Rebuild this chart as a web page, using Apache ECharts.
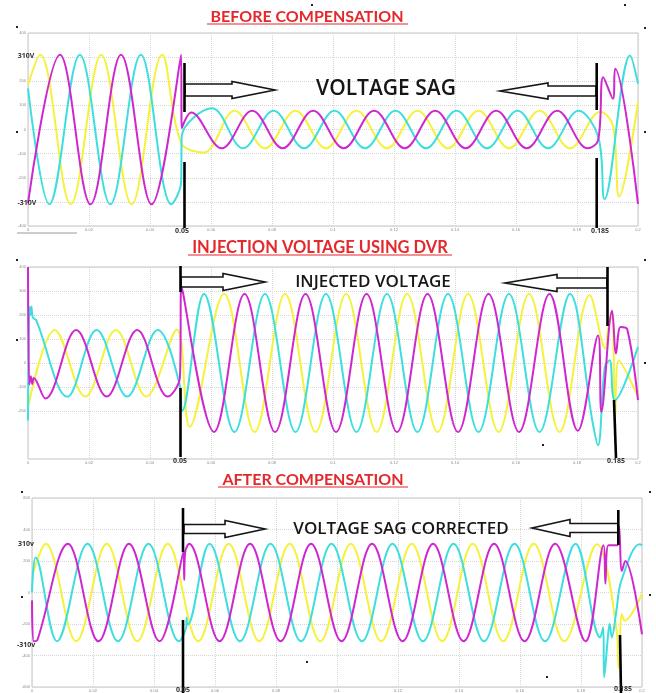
<!DOCTYPE html>
<html>
<head>
<meta charset="utf-8">
<script src="https://cdn.jsdelivr.net/npm/echarts@6/dist/echarts.min.js"></script>
<style>
  html, body { margin: 0; padding: 0; background: #fff; }
  #chart { width: 656px; height: 693px; }
</style>
</head>
<body>
<div id="chart"></div>
<script>
// [time (s), voltage (V)]: peaks, troughs and transient corners
const beforeYellow = [
  [0, 185], [0.004, 310], [0.014, -310], [0.024, 310], [0.034, -310], [0.044, 310],
  [0.0502, -55], [0.0577, -95], [0.0677, 78], [0.0777, -78], [0.0877, 78], [0.0977, -78],
  [0.1077, 78], [0.1177, -78], [0.1277, 78], [0.1377, -78], [0.1477, 78], [0.1577, -78],
  [0.1677, 78], [0.1777, -78], [0.1877, 74], [0.1918, 15], [0.1938, -278], [0.2, 113]
];
const beforeMagenta = [
  [0, -305], [0.0105, 310], [0.0205, -310], [0.0305, 310], [0.0405, -310], [0.0502, 310], [0.0504, 5],
  [0.0535, 70], [0.0635, -78], [0.0735, 78], [0.0835, -78], [0.0935, 78], [0.1035, -78], [0.1135, 78],
  [0.1235, -78], [0.1335, 78], [0.1435, -78], [0.1535, 78], [0.1635, -78], [0.1735, 78], [0.1835, -78],
  [0.1869, -45], [0.1886, 217], [0.1918, 127], [0.1925, 252], [0.2, -308]
];
const beforeCyan = [
  [0, 170], [0.007, -310], [0.017, 310], [0.027, -310], [0.037, 310], [0.047, -310], [0.0502, -220], [0.0504, -30],
  [0.0604, 88], [0.0705, -78], [0.0805, 78], [0.0905, -78], [0.1005, 78], [0.1105, -78], [0.1205, 78],
  [0.1305, -78], [0.1405, 78], [0.1505, -78], [0.1605, 78], [0.1705, -78], [0.1805, 78],
  [0.187, -32], [0.189, -288], [0.1974, 307], [0.2, 190]
];

const injectYellow = [
  [0, -185], [0.0088, 138], [0.0188, -140], [0.0288, 138], [0.0388, -140], [0.0488, 140],
  [0.053, -265], [0.0643, 287], [0.0743, -287], [0.0843, 287], [0.0943, -287], [0.1043, 287],
  [0.1143, -287], [0.1243, 287], [0.1343, -287], [0.1443, 287], [0.1543, -287], [0.1643, 287],
  [0.1743, -287], [0.1842, 282], [0.1893, 60], [0.1902, 143], [0.1915, 210], [0.1925, -225],
  [0.1937, 10], [0.2, -140]
];
const injectMagenta = [
  [0, 400], [0.0004, -90], [0.0009, -55], [0.0014, -88], [0.0019, -62], [0.0057, -148],
  [0.0158, 138], [0.0258, -140], [0.0358, 138], [0.0458, -140], [0.0498, -60], [0.0503, 318],
  [0.061, -287], [0.071, 287], [0.081, -287], [0.091, 287], [0.101, -287], [0.111, 287],
  [0.121, -287], [0.131, 287], [0.141, -287], [0.151, 287], [0.161, -287], [0.171, 287],
  [0.1803, -282], [0.1869, 115], [0.188, -204], [0.1915, 218], [0.1928, 40], [0.1943, 150],
  [0.1965, 140], [0.2, -155]
];
const injectCyan = [
  [0, -240], [0.0005, 233], [0.0008, 200], [0.0011, 235], [0.0016, 190], [0.0027, 178],
  [0.0129, -141], [0.0225, 138], [0.0325, -140], [0.0425, 138], [0.0498, -95], [0.0505, -200],
  [0.0577, 287], [0.0677, -287], [0.0777, 287], [0.0877, -287], [0.0977, 287], [0.1077, -287],
  [0.1177, 287], [0.1277, -287], [0.1377, 287], [0.1477, -287], [0.1577, 287], [0.1677, -287],
  [0.1777, 287], [0.1852, -253], [0.1869, -343], [0.1891, -17], [0.1907, 11], [0.1924, -155], [0.2, 67]
];

const afterYellow = [
  [0, 100], [0.0045, 310], [0.0145, -310], [0.0245, 310], [0.0345, -310], [0.0445, 310],
  [0.0545, -310], [0.0645, 310], [0.0745, -310], [0.0845, 310], [0.0945, -310], [0.1045, 310],
  [0.1145, -310], [0.1245, 310], [0.1345, -310], [0.1445, 310], [0.1545, -310], [0.1645, 310],
  [0.1745, -310], [0.1852, 306], [0.1918, -264], [0.1923, -480], [0.1934, -137], [0.1943, -180], [0.2, -8]
];
const afterMagenta = [
  [0, -50], [0.0006, -310], [0.0018, -300], [0.0118, 310], [0.0218, -310], [0.0318, 310],
  [0.0418, -310], [0.0497, 262], [0.0499, 80], [0.0502, 255], [0.0515, 310], [0.0615, -310],
  [0.0715, 310], [0.0815, -310], [0.0915, 310], [0.1015, -310], [0.1115, 310], [0.1215, -310],
  [0.1315, 310], [0.1415, -310], [0.1515, 310], [0.1615, -310], [0.1715, 310], [0.1815, -310],
  [0.1874, 300], [0.188, 55], [0.189, 300], [0.1921, 300], [0.1925, 420], [0.1934, 137],
  [0.1945, 200], [0.2, -265]
];
const afterCyan = [
  [0, 0], [0.0012, 222], [0.0082, -310], [0.0182, 310], [0.0282, -310], [0.0382, 310],
  [0.0482, -310], [0.0505, -225], [0.0507, -160], [0.051, -205], [0.0582, 310], [0.0682, -310],
  [0.0782, 310], [0.0882, -310], [0.0982, 310], [0.1082, -310], [0.1182, 310], [0.1282, -310],
  [0.1382, 310], [0.1482, -310], [0.1582, 310], [0.1682, -310], [0.1782, 310],
  [0.1863, -285], [0.1873, -221], [0.1876, -538], [0.1889, -264], [0.1894, -200], [0.1901, -285],
  [0.1916, -116], [0.1932, 73], [0.1992, 306], [0.2, 300]
];

const titles = ['BEFORE COMPENSATION', 'INJECTION VOLTAGE USING DVR', 'AFTER COMPENSATION'];
const notes = ['VOLTAGE SAG', 'INJECTED VOLTAGE', 'VOLTAGE SAG CORRECTED'];

const YELLOW = '#f4f23c';
const MAGENTA = '#cf27cf';
const CYAN = '#3fdede';

const panels = [
  {left: 28, right: 18, top: 33, height: 193, min: -400, max: 400, step: 100, hide: [300, -300],
    traces: [beforeYellow, beforeCyan, beforeMagenta]},
  {left: 28, right: 18, top: 267, height: 192, min: -400, max: 400, step: 100, hide: [-300, -400],
    traces: [injectYellow, injectCyan, injectMagenta]},
  {left: 32, right: 14, top: 498, height: 190, min: -600, max: 600, step: 200, hide: [],
    traces: [afterYellow, afterCyan, afterMagenta]}
];

const grid = [], xAxis = [], yAxis = [], series = [];
panels.forEach((p, i) => {
  grid.push({left: p.left, right: p.right, top: p.top, height: p.height,
    show: true, borderColor: '#c4c4c4', borderWidth: 1, backgroundColor: '#fff'});
  xAxis.push({
    type: 'value', gridIndex: i, min: 0, max: 0.2, interval: 0.02,
    axisLine: {show: false}, axisTick: {show: false},
    axisLabel: {fontSize: 4, color: '#8a8a8a', margin: 2,
      formatter: v => v === 0 ? '0' : String(parseFloat(v.toFixed(2)))},
    splitLine: {lineStyle: {color: '#d6d6d6', type: 'dotted'}}
  });
  const splitColors = [];
  for (let v = p.min; v <= p.max; v += p.step) {
    splitColors.push(p.hide.indexOf(v) >= 0 && i === 1 ? 'rgba(0,0,0,0)' : '#d6d6d6');
  }
  yAxis.push({
    type: 'value', gridIndex: i, min: p.min, max: p.max, interval: p.step,
    axisLine: {show: false}, axisTick: {show: false},
    axisLabel: {fontSize: 4, color: '#8a8a8a', margin: 2,
      formatter: v => p.hide.indexOf(v) >= 0 ? '' : String(v)},
    splitLine: {lineStyle: {color: splitColors, type: 'dotted'}}
  });
  [YELLOW, CYAN, MAGENTA].forEach((color, k) => {
    series.push({
      type: 'line', xAxisIndex: i, yAxisIndex: i, data: p.traces[k],
      smooth: 0.36, symbol: 'none', animation: false, silent: true,
      lineStyle: {color: color, width: 2}, itemStyle: {color: color}, z: 3 + k
    });
  });
});

// hand-drawn annotations of the original figure
function arrow(x0, xb, xt, yc, sh, hh) {
  return {
    type: 'polygon', z: 20,
    shape: {points: [[x0, yc - sh], [xb, yc - sh], [xb, yc - hh], [xt, yc], [xb, yc + hh], [xb, yc + sh], [x0, yc + sh]]},
    style: {fill: '#fff', stroke: '#151515', lineWidth: 1.6}
  };
}
function bar(x1, y1, x2, y2) {
  return {type: 'line', z: 21, shape: {x1, y1, x2, y2}, style: {stroke: '#000', lineWidth: 2.6}};
}
function label(text, x, y, font, fill) {
  return {type: 'text', z: 22, x, y,
    style: {text, font, fill, textAlign: 'center', textVerticalAlign: 'middle'}};
}
function underline(x1, x2, y) {
  return {type: 'line', z: 22, shape: {x1, y1: y, x2, y2: y}, style: {stroke: '#e3292c', lineWidth: 1.2}};
}

const titleFont = 'bold 16px Lato';
const titleFont2 = 'bold 16.5px Lato';
const noteFont = '600 21px "Open Sans"';
const noteFont2 = '600 17px "Open Sans"';
const smallFont = 'bold 7px "Open Sans"';

const graphic = [
  label(titles[0], 307, 17, titleFont, '#e3292c'), underline(207, 408, 24),
  label(titles[1], 320, 248, titleFont2, '#e3292c'), underline(188, 452, 255),
  label(titles[2], 313, 480, titleFont, '#e3292c'), underline(218, 408, 487),

  label(notes[0], 386, 89, noteFont, '#161616'),
  label(notes[1], 373, 282, noteFont2, '#161616'),
  label(notes[2], 401, 529, noteFont2, '#161616'),

  arrow(185, 232, 275, 90, 6, 8.5), arrow(596, 548, 500, 91, 5, 8),
  arrow(181, 223, 265, 282, 5, 8.5), arrow(607, 557, 505, 283, 5, 8.5),
  arrow(184, 225, 265, 529, 4.5, 8.5), arrow(618, 570, 532, 528, 4.5, 8.5),

  bar(184.5, 63, 184.5, 112), bar(184.5, 162, 184.5, 228),
  bar(596.7, 63, 596.7, 110), bar(596.7, 158, 596.7, 228),
  bar(180.5, 266, 180.5, 292), bar(180.5, 388, 180.5, 457),
  bar(607.5, 267, 607.5, 326), bar(614, 400, 616, 458),
  bar(183, 508, 183, 552), bar(183, 620, 183, 693),
  bar(618.3, 510, 618.3, 545), bar(620, 635, 621, 693),

  label('310V', 26, 56, smallFont, '#333'), label('-310V', 27, 203, smallFont, '#333'),
  label('310v', 26, 544, smallFont, '#333'), label('-310v', 26, 645, smallFont, '#333'),
  label('0.05', 182, 231, smallFont, '#333'), label('0.185', 600, 231, smallFont, '#333'),
  label('0.05', 180, 461, smallFont, '#333'), label('0.185', 616, 461, smallFont, '#333'),
  label('0.05', 183, 690, smallFont, '#333'), label('0.185', 623, 689, smallFont, '#333'),

  {type: 'line', z: 5, shape: {x1: 17, y1: 233, x2: 77, y2: 233}, style: {stroke: '#9a9a9a', lineWidth: 1}}
];
[[17, 27], [17, 132], [645, 28], [645, 132], [625, 5], [312, 5], [17, 260], [17, 340],
 [645, 260], [645, 363], [543, 445], [22, 492], [22, 597], [307, 662], [650, 492], [650, 595], [547, 677]]
  .forEach(d => graphic.push({type: 'rect', z: 5, shape: {x: d[0] - 1, y: d[1] - 1, width: 2, height: 2}, style: {fill: '#222'}}));

const chart = echarts.init(document.getElementById('chart'), null, {renderer: 'canvas'});
chart.setOption({
  backgroundColor: '#fff',
  animation: false,
  grid: grid,
  xAxis: xAxis,
  yAxis: yAxis,
  series: series,
  graphic: graphic
});
</script>
</body>
</html>
